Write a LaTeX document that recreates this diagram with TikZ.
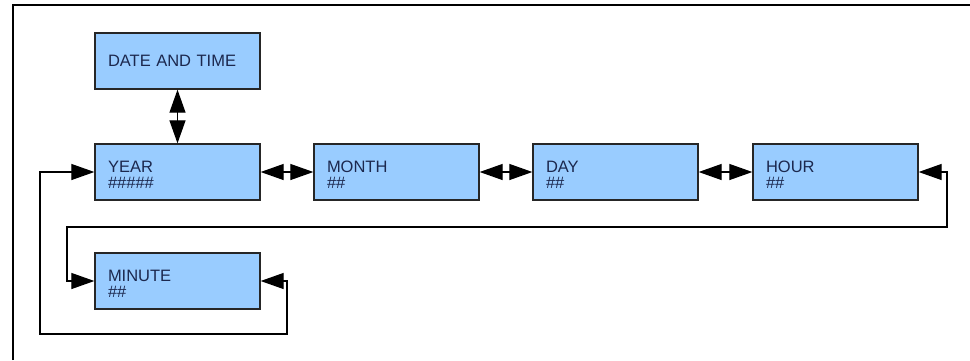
\documentclass[tikz,border=0pt]{standalone}
\usepackage{fontspec}
\setmainfont{Liberation Sans}
\usetikzlibrary{arrows.meta}
\definecolor{boxfill}{RGB}{153,204,255}
\definecolor{boxtext}{RGB}{28,40,78}
\tikzset{
  field/.style={draw=black!85, line width=1.3pt, fill=boxfill, rectangle,
    minimum width=165pt, minimum height=56pt, inner sep=0pt,
    text width=139pt, align=left, text=boxtext,
    font=\fontsize{16.5pt}{15.5pt}\selectfont},
  twoline/.style={text depth=10pt},
  link/.style={line width=1.2pt, draw=black,
    {Triangle[length=23pt,width=16pt]}-{Triangle[length=23pt,width=16pt]}},
}
\begin{document}
\begin{tikzpicture}[x=1pt,y=-1pt]
\useasboundingbox (0,0) rectangle (970,360);
\draw[line width=1.3pt] (13,360) -- (13,5) -- (970,5);

\node[field] (date) at (177.5,61) {DATE AND TIME};
\node[field,twoline] (year) at (177.5,172) {YEAR\\\#\#\#\#\#};
\node[field,twoline] (month) at (396.5,172) {MONTH\\\#\#};
\node[field,twoline] (day) at (615.5,172) {DAY\\\#\#};
\node[field,twoline] (hour) at (835.5,172) {HOUR\\\#\#};
\node[field,twoline] (minute) at (177.5,281) {MINUTE\\\#\#};

\coordinate (c1) at (947,227);
\coordinate (c2) at (67,227);
\coordinate (c3) at (287,334);
\coordinate (c4) at (40,334);

\draw[link] (date) -- (year);
\draw[link] (year) -- (month);
\draw[link] (month) -- (day);
\draw[link] (day) -- (hour);
\draw[link] (hour.east) -| (c1) -- (c2) |- (minute.west);
\draw[link] (minute.east) -| (c3) -- (c4) |- (year.west);
\end{tikzpicture}
\end{document}
